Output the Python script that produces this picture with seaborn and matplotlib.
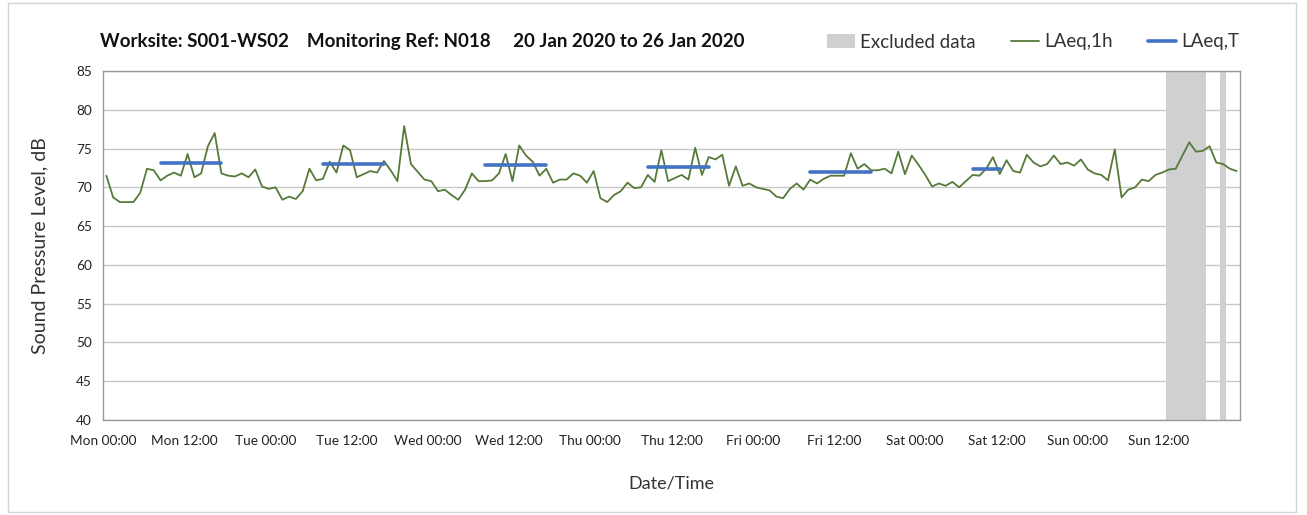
import numpy as np
import pandas as pd
import matplotlib
matplotlib.use("Agg")
import matplotlib.pyplot as plt
from matplotlib.patches import Patch, Rectangle
from matplotlib.lines import Line2D
import seaborn as sns

# ---------------- data ----------------
laeq_1h = [
    71.5, 68.7, 68.1, 68.1, 68.1, 69.3, 72.4, 72.2, 70.9, 71.5, 71.9, 71.5,
    74.3, 71.3, 71.8, 75.3, 77.0, 71.8, 71.5, 71.4, 71.8, 71.3, 72.3, 70.1,
    69.8, 70.0, 68.4, 68.8, 68.5, 69.5, 72.4, 70.9, 71.1, 73.3, 71.9, 75.4,
    74.8, 71.3, 71.7, 72.1, 71.9, 73.4, 72.2, 70.8, 77.9, 73.0, 72.0, 71.0,
    70.8, 69.5, 69.7, 69.0, 68.4, 69.7, 71.8, 70.8, 70.8, 70.9, 71.8, 74.3,
    70.8, 75.4, 74.1, 73.3, 71.5, 72.4, 70.6, 71.0, 71.0, 71.8, 71.5, 70.6,
    72.1, 68.6, 68.1, 69.0, 69.5, 70.6, 69.9, 70.0, 71.6, 70.7, 74.8, 70.8,
    71.2, 71.6, 71.0, 75.1, 71.6, 73.9, 73.6, 74.2, 70.2, 72.7, 70.2, 70.5,
    70.0, 69.8, 69.6, 68.8, 68.6, 69.8, 70.5, 69.7, 71.0, 70.5, 71.1, 71.5,
    71.5, 71.5, 74.4, 72.4, 73.0, 72.2, 72.2, 72.4, 71.8, 74.6, 71.7, 74.1,
    72.9, 71.6, 70.1, 70.5, 70.2, 70.7, 70.0, 70.8, 71.6, 71.5, 72.4, 73.9,
    71.7, 73.5, 72.1, 71.9, 74.2, 73.2, 72.7, 73.0, 74.1, 73.0, 73.2, 72.8,
    73.6, 72.3, 71.8, 71.6, 70.9, 74.9, 68.7, 69.7, 70.0, 71.0, 70.8, 71.6,
    71.9, 72.3, 72.4, 74.1, 75.8, 74.6, 74.7, 75.3, 73.2, 73.0, 72.4, 72.1,
]
excluded_hours = [157, 158, 159, 160, 161, 162, 165]

period_first_hour = [8, 32, 56, 80, 104, 128]
period_last_hour = [17, 41, 65, 89, 113, 132]
laeq_T = [73.2, 73.0, 72.9, 72.6, 72.0, 72.3]

tick_labels = ["Mon 00:00", "Mon 12:00", "Tue 00:00", "Tue 12:00", "Wed 00:00",
               "Wed 12:00", "Thu 00:00", "Thu 12:00", "Fri 00:00", "Fri 12:00",
               "Sat 00:00", "Sat 12:00", "Sun 00:00", "Sun 12:00", ""]

title = "Worksite: S001-WS02    Monitoring Ref: N018     20 Jan 2020 to 26 Jan 2020"

# ---------------- style ----------------
sns.set_style("white")
plt.rcParams["font.family"] = ["Lato", "DejaVu Sans"]

GREEN = "#557a3a"
BLUE = "#4472c4"
SHADE = "#d0d0d0"

fig = plt.figure(figsize=(13.07, 5.15), dpi=100)
ax = fig.add_axes([103 / 1307, 1 - 420 / 515, (1240 - 103) / 1307, (420 - 71) / 515])

n = len(laeq_1h)
df = pd.DataFrame({"hour": np.arange(n) + 0.5, "LAeq": laeq_1h})

# excluded data shading (category columns)
ax.bar(np.array(excluded_hours) + 0.5, [45] * len(excluded_hours), bottom=40,
       width=1.0, color=SHADE, linewidth=0, zorder=1)

sns.lineplot(data=df, x="hour", y="LAeq", color=GREEN, linewidth=1.3, ax=ax,
             zorder=3, legend=False)

seg_rows = []
for i, (a, b, v) in enumerate(zip(period_first_hour, period_last_hour, laeq_T)):
    seg_rows.append({"period": i, "hour": a + 0.5, "val": v})
    seg_rows.append({"period": i, "hour": b + 0.5, "val": v})
seg = pd.DataFrame(seg_rows)
sns.lineplot(data=seg, x="hour", y="val", units="period", estimator=None,
             color=BLUE, linewidth=2.6, ax=ax, zorder=4, legend=False)

# axes
ax.set_xlim(0, n)
ax.set_ylim(40, 85)
ax.set_yticks(np.arange(40, 86, 5))
ax.set_xticks(np.arange(0, n + 1, 12))
ax.set_xticklabels(tick_labels)
ax.set_xticks(np.arange(24, n, 24), minor=True)
ax.grid(False)
ax.yaxis.grid(True, color="#c8c8c8", linewidth=1.0, zorder=0)
ax.xaxis.grid(True, which="minor", color="#dcdcdc", linewidth=1.0, zorder=0)
ax.set_axisbelow(True)
for s in ax.spines.values():
    s.set_color("#9a9a9a")
    s.set_linewidth(1.0)
ax.tick_params(axis="x", which="major", direction="out", length=5, color="#9a9a9a",
               labelsize=9.8, labelcolor="#222222", pad=6)
ax.tick_params(axis="x", which="minor", length=0)
ax.tick_params(axis="y", direction="out", length=5, color="#9a9a9a",
               labelsize=9.8, labelcolor="#222222", pad=3)
ax.set_xlabel("Date/Time", fontsize=13, color="#333333", labelpad=20)
ax.set_ylabel("Sound Pressure Level, dB", fontsize=14, color="#333333", labelpad=20)

fig.text(100 / 1307, 1 - 41 / 515, title, fontsize=13.5, fontweight="bold",
         color="#111111", va="center", ha="left")

handles = [Patch(facecolor=SHADE, edgecolor="none", label="Excluded data"),
           Line2D([], [], color=GREEN, linewidth=1.3, label="LAeq,1h"),
           Line2D([], [], color=BLUE, linewidth=2.6, label="LAeq,T")]
fig.legend(handles=handles, loc="center right", bbox_to_anchor=(1256 / 1307, 1 - 42 / 515),
           ncol=3, frameon=False, fontsize=13.5, handlelength=1.5, handletextpad=0.25,
           columnspacing=1.9, labelcolor="#333333")

fig.patches.append(Rectangle((8 / 1307, 3 / 515), 1288 / 1307, 509 / 515,
                             transform=fig.transFigure, fill=False,
                             edgecolor="#d4d4d4", linewidth=1.0))

fig.savefig("out.png", dpi=100)
